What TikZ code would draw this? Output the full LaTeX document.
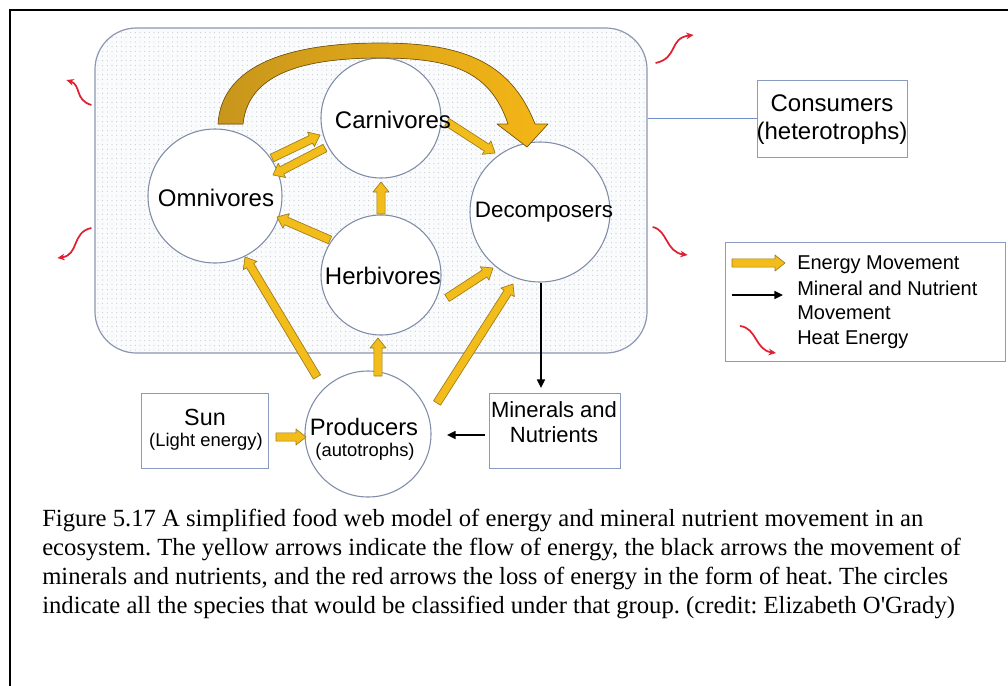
\documentclass[tikz,border=0pt]{standalone}
\usepackage{fontspec}
\setmainfont{Liberation Serif}
\setsansfont{Liberation Sans}
\usetikzlibrary{calc,patterns.meta,arrows.meta}
\definecolor{efill}{HTML}{F2BC1B}
\definecolor{eedge}{HTML}{A07C1A}
\definecolor{bigL}{HTML}{C8961C}
\definecolor{bigR}{HTML}{F4B616}
\definecolor{bigedge}{HTML}{7A5A10}
\definecolor{circedge}{HTML}{7F8CA8}
\definecolor{groupedge}{HTML}{8D97B0}
\definecolor{grpbg}{HTML}{FAFBFD}
\definecolor{boxedge}{HTML}{8A9AC0}
\definecolor{heatred}{HTML}{E02030}
\definecolor{linkblue}{HTML}{6F8FC8}
\newcommand{\ew}{3.1pt}
\newcommand{\ehw}{6pt}
\newcommand{\eh}{7.5pt}
\newcommand{\earrow}[3][]{%
  \coordinate (ea-t) at #2;
  \coordinate (ea-p) at #3;
  \coordinate (ea-h) at ($(ea-p)!\eh!(ea-t)$);
  \filldraw[earr,#1] ($(ea-t)!\ew!90:(ea-p)$) -- ($(ea-h)!\ew!90:(ea-p)$) -- ($(ea-h)!\ehw!90:(ea-p)$) -- (ea-p) -- ($(ea-h)!\ehw!-90:(ea-p)$) -- ($(ea-h)!\ew!-90:(ea-p)$) -- ($(ea-t)!\ew!-90:(ea-p)$) -- cycle;}
\tikzset{
  earr/.style={fill=efill, draw=eedge, line width=0.5pt, line join=round},
  grp/.style={draw=groupedge, line width=0.9pt, rounded corners=31pt, preaction={fill=grpbg},
    pattern={Dots[distance=3.5pt, radius=0.35pt]}, pattern color=black!30,
    minimum width=414pt, minimum height=243.75pt, inner sep=0pt},
  circ/.style={circle, draw=circedge, fill=white, line width=0.8pt, inner sep=0pt},
  labbox/.style={draw=boxedge, fill=white, line width=0.7pt, inner sep=0pt},
  big/.style={font=\fontsize{18}{21}\selectfont\sffamily, inner sep=0pt},
  small/.style={font=\fontsize{13.8}{16}\selectfont\sffamily, inner sep=0pt},
  legtxt/.style={font=\fontsize{15}{18.75}\selectfont\sffamily, inner sep=0pt, anchor=west},
  captxt/.style={font=\fontsize{18.5}{21}\selectfont\frenchspacing, inner sep=0pt, anchor=base west},
  heat/.style={draw=heatred, line width=1.3pt, -{Stealth[length=5.5pt,width=5pt]}},
  mineral/.style={draw=black, line width=1.1pt, -{Triangle[length=6.5pt,width=6pt]}},
  linkline/.style={draw=linkblue, line width=0.7pt}
}
\begin{document}
\begin{tikzpicture}[x=0.75pt, y=-0.75pt]
\useasboundingbox (0,0) rectangle (1008,686);
\fill[white] (0,0) rectangle (1008,686);
\draw[line width=1.5pt] (10,686) -- (10,10) -- (1008,10);

% group of consumers
\node[grp] (group) at (371,190.5) {};

% heat arrows
\draw[heat] ($(group.west)+(-3,-85.5)$) .. controls +(-17,-5) and +(15,5) .. ($(group.west)+(-28,-110.5)$);
\draw[heat] ($(group.west)+(-3,37.5)$) .. controls +(-20,4) and +(22,-3) .. ($(group.west)+(-37,67.5)$);
\draw[heat] ($(group.east)+(8,-127.5)$) .. controls +(23,-5) and +(-25,3) .. ($(group.east)+(46,-155.5)$);
\draw[heat] ($(group.east)+(5,36.5)$) .. controls +(15,3) and +(-22,-3) .. ($(group.east)+(40,64.5)$);

% circles
\node[circ, minimum size=90pt] (carn) at (381,118) {};
\node[circ, minimum size=100.5pt] (omni) at (215,196) {};
\node[circ, minimum size=105pt] (deco) at (540,212) {};
\node[circ, minimum size=90pt] (herb) at (381,275) {};
\node[circ, minimum size=94.5pt] (prod) at (368,434) {};

% boxes
\node[labbox, minimum width=95.25pt, minimum height=56.25pt] (sun) at (204.5,430.5) {};
\node[labbox, minimum width=98.25pt, minimum height=56.25pt] (mins) at (554.5,430.5) {};
\node[labbox, minimum width=112.5pt, minimum height=57.75pt] (cons) at (832,118.5) {};
\node[labbox, minimum width=210pt, minimum height=89.25pt] (legend) at (865,301.5) {};

\draw[linkline] (cons.west -| group.east) -- (cons.west);

% big curved energy arrow (omnivores to decomposers)
\filldraw[left color=bigL, right color=bigR, draw=bigedge, line width=0.5pt, line join=round]
  ($(omni)+(3,-72)$) .. controls (222,60) and (300,43) .. (380,43)
  .. controls (460,43) and (510,60) .. ($(deco)+(-5,-88)$)
  -- ($(deco)+(8,-88)$) -- ($(deco)+(-13,-65)$) -- ($(deco)+(-43,-88)$) -- ($(deco)+(-32,-88)$)
  .. controls (490,70) and (450,58) .. (380,58)
  .. controls (300,58) and (248,75) .. ($(omni)+(28,-72)$) -- cycle;

% energy arrows
\earrow{($(sun)+(71.5,6.5)$)}{($(prod)+(-62,3)$)}
\earrow{($(prod)+(-51,-57)$)}{($(omni)+(30,61)$)}
\earrow{($(prod)+(10,-58)$)}{($(herb)+(-3,63)$)}
\earrow{($(prod)+(69,-31)$)}{($(deco)+(-27,72)$)}
\earrow{($(herb)+(-51,-35)$)}{($(omni)+(62,21)$)}
\earrow{($(herb)+(0,-61)$)}{($(carn)+(0,64)$)}
\earrow{($(herb)+(66,23)$)}{($(deco)+(-47,56)$)}
\earrow{($(omni)+(57,-38)$)}{($(carn)+(-61,17)$)}
\earrow{($(carn)+(-56,30)$)}{($(omni)+(58,-21)$)}
\earrow{($(carn)+(66,4)$)}{($(deco)+(-45,-59)$)}

% mineral arrows
\draw[mineral] ($(deco)+(1,71)$) -- ($(mins)+(-13.5,-42.5)$);
\draw[mineral] ($(mins)+(-69.5,4.5)$) -- ($(prod)+(79,1)$);

% texts
\node[big] at (393,120) {Carnivores};
\node[big] at (216,198) {Omnivores};
\node[big, font=\fontsize{16.8}{20}\selectfont\sffamily] at (544,212) {Decomposers};
\node[big] at (383,276) {Herbivores};
\node[big, font=\fontsize{17.8}{20}\selectfont\sffamily] at (364,427) {Producers};
\node[small] at (365,452) {(autotrophs)};
\node[big, font=\fontsize{17.5}{20}\selectfont\sffamily] at (205,417) {Sun};
\node[small] at (206,442) {(Light energy)};
\node[big, font=\fontsize{16.5}{20}\selectfont\sffamily] at (554,410) {Minerals and};
\node[big, font=\fontsize{16.5}{20}\selectfont\sffamily] at (554,435) {Nutrients};
\node[big] at (832,103) {Consumers};
\node[big] at (832,133) {(heterotrophs)};

% legend
\earrow{($(legend)+(-133,-38.5)$)}{($(legend)+(-80,-38.5)$)}
\draw[mineral] ($(legend)+(-133,-6.5)$) -- ($(legend)+(-82,-6.5)$);
\draw[heat] ($(legend)+(-125,24.5)$) .. controls +(17,2) and +(-21,-3) .. ($(legend)+(-89,51.5)$);
\node[legtxt] at (797,265) {Energy Movement};
\node[legtxt] at (797,288) {Mineral and Nutrient};
\node[legtxt] at (797,313) {Movement};
\node[legtxt] at (797,340) {Heat Energy};

% caption
\node[captxt] at (42,526) {Figure 5.17 A simplified food web model of energy and mineral nutrient movement in an};
\node[captxt] at (42,555) {ecosystem. The yellow arrows indicate the flow of energy, the black arrows the movement of};
\node[captxt] at (42,584) {minerals and nutrients, and the red arrows the loss of energy in the form of heat. The circles};
\node[captxt] at (42,613) {indicate all the species that would be classified under that group. (credit: Elizabeth O\textquotesingle Grady)};
\end{tikzpicture}
\end{document}
